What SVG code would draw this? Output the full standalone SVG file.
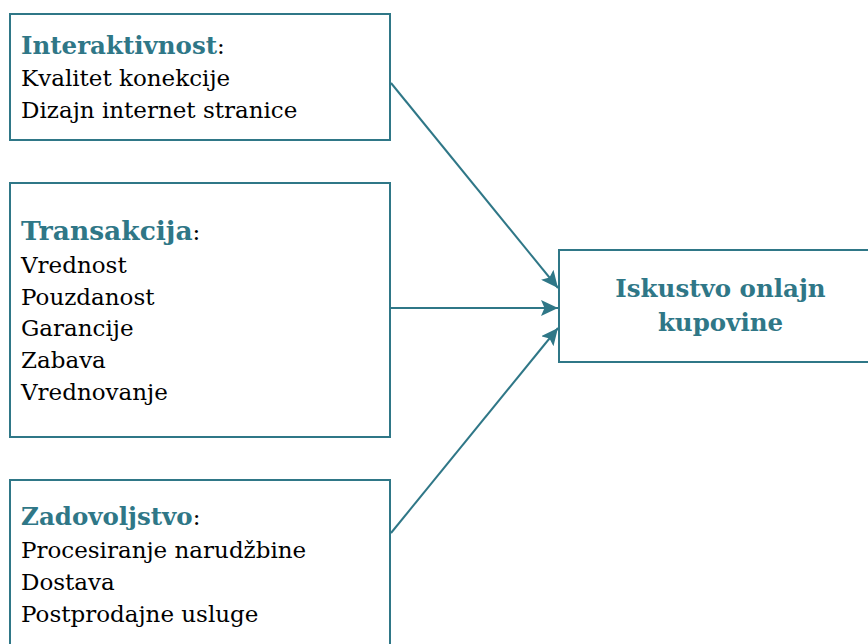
<svg xmlns="http://www.w3.org/2000/svg" width="868" height="644" viewBox="0 0 868 644">
<style>
.box{fill:#fff;stroke:#2f7787;stroke-width:2}
.t{font-family:"DejaVu Serif","Liberation Serif",serif;fill:#000;font-size:23px}
.h{fill:#2f7787;font-weight:bold}
.k{font-size:24.5px}
.c{stroke:#2f7787;stroke-width:2;fill:none;marker-end:url(#ah)}
</style>
<defs>
<marker id="ah" viewBox="0 0 17 16" refX="17" refY="8" markerWidth="17" markerHeight="16" markerUnits="userSpaceOnUse" orient="auto">
<path d="M0,0 L17,8 L0,16 L3.5,8 Z" fill="#2f7787"/>
</marker>
</defs>
<rect width="868" height="644" fill="#fff"/>
<g id="connectors">
<line class="c" x1="391" y1="83" x2="558" y2="288"/>
<line class="c" x1="391" y1="308" x2="558" y2="308"/>
<line class="c" x1="391" y1="533" x2="558" y2="328"/>
</g>
<g id="interaktivnost">
<rect class="box" x="10" y="14" width="380" height="126"/>
<text class="t" x="21" y="54"><tspan class="h" font-size="24.5">Interaktivnost</tspan>:</text>
<text class="t" x="21" y="86">Kvalitet konekcije</text>
<text class="t" x="21" y="118">Dizajn internet stranice</text>
</g>
<g id="transakcija">
<rect class="box" x="10" y="183" width="380" height="254"/>
<text class="t" x="21" y="240"><tspan class="h" font-size="26.5">Transakcija</tspan>:</text>
<text class="t" x="21" y="273">Vrednost</text>
<text class="t" x="21" y="305">Pouzdanost</text>
<text class="t" x="21" y="336">Garancije</text>
<text class="t" x="21" y="368">Zabava</text>
<text class="t" x="21" y="400">Vrednovanje</text>
</g>
<g id="zadovoljstvo">
<rect class="box" x="10" y="480" width="380" height="170"/>
<text class="t" x="21" y="525"><tspan class="h" font-size="24.5">Zadovoljstvo</tspan>:</text>
<text class="t" x="21" y="558">Procesiranje narudžbine</text>
<text class="t" x="21" y="590">Dostava</text>
<text class="t" x="21" y="622">Postprodajne usluge</text>
</g>
<g id="iskustvo">
<rect class="box" x="559" y="250" width="320" height="112"/>
<text class="t h k" x="720.5" y="297" text-anchor="middle">Iskustvo onlajn</text>
<text class="t h k" x="720.5" y="331" text-anchor="middle">kupovine</text>
</g>
</svg>
